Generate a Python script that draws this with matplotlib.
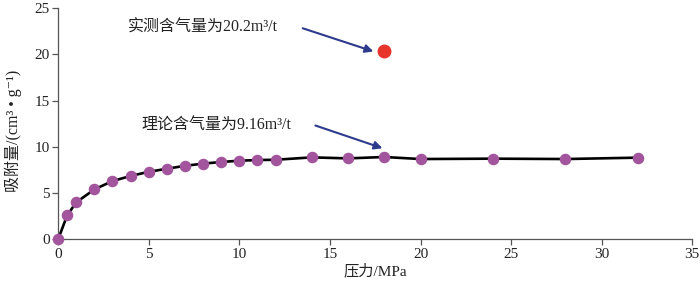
import numpy as np
import matplotlib
matplotlib.use("Agg")
import matplotlib.pyplot as plt

# data
pressure = [0, 0.5, 1, 2, 3, 4, 5, 6, 7, 8, 9, 10, 11, 12, 14, 16, 18, 20, 24, 28, 32]
adsorption = [0, 2.6, 4.0, 5.4, 6.3, 6.85, 7.3, 7.63, 7.95, 8.18, 8.36, 8.5, 8.57, 8.6,
              8.86, 8.75, 8.9, 8.68, 8.72, 8.68, 8.83]
measured_x = [18]
measured_y = [20.3]
label_measured = "实测含气量为20.2m³/t"
label_theory = "理论含气量为9.16m³/t"
x_ticks = [0, 5, 10, 15, 20, 25, 30, 35]
y_ticks = [0, 5, 10, 15, 20, 25]

fam = ['Liberation Serif', 'Noto Sans CJK SC', 'DejaVu Serif']
plt.rcParams['font.family'] = fam

fig = plt.figure(figsize=(7, 2.82), dpi=100)
ax = fig.add_axes([0.083, 0.151, 0.906, 0.821])

ax.plot(pressure, adsorption, color='black', lw=1.9, zorder=2, clip_on=False)
ax.plot(pressure, adsorption, 'o', color='#A2559C', ms=7.3, mec='#A2559C', zorder=3,
        clip_on=False)
ax.plot(measured_x, measured_y, 'o', color='#E8342B', ms=9, zorder=3)

arrow = dict(arrowstyle='-|>', color='#2E3A8C', lw=1.5, mutation_scale=12, shrinkA=0, shrinkB=0)
ax.annotate('', xy=(17.4, 20.3), xytext=(13.5, 22.8), arrowprops=arrow)
ax.annotate('', xy=(17.9, 9.85), xytext=(14.2, 12.3), arrowprops=arrow)
ax.text(3.85, 22.9, label_measured, fontsize=11.5, va='center', ha='left', color='#222222')
ax.text(4.6, 12.35, label_theory, fontsize=11.5, va='center', ha='left', color='#222222')

ax.set_xlim(0, 35)
ax.set_ylim(0, 25)
ax.set_xticks(x_ticks)
ax.set_yticks(y_ticks)
ax.spines['top'].set_visible(False)
ax.spines['right'].set_visible(False)
for s in ['left', 'bottom']:
    ax.spines[s].set_color('#555555')
    ax.spines[s].set_linewidth(0.9)
ax.tick_params(direction='out', length=4, width=0.9, color='#555555',
               labelsize=11, labelcolor='#222222', pad=2)
ax.set_xlabel('压力/MPa', fontsize=11, labelpad=2, color='#222222')
ax.set_ylabel('吸附量/(cm³ • g⁻¹)', fontsize=11.5, color='#222222')
ax.yaxis.set_label_coords(-0.057, 0.47)

fig.savefig('out.png', dpi=100)
